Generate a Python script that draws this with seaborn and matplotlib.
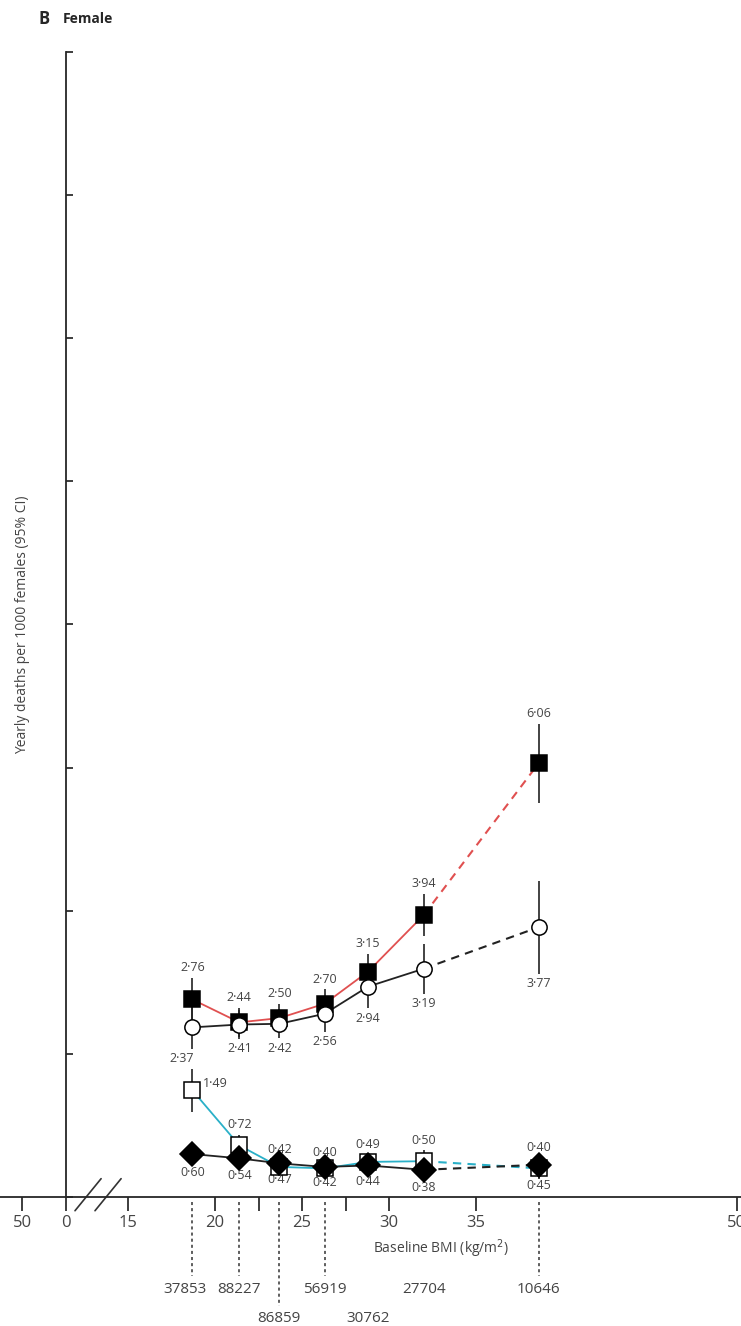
import numpy as np
import matplotlib
matplotlib.use("Agg")
import matplotlib.pyplot as plt
import seaborn as sns

# BMI group positions (kg/m2)
bmi = [18.7, 21.4, 23.7, 26.3, 28.8, 32.0, 38.6]
counts = ["37853", "88227", "86859", "56919", "30762", "27704", "10646"]
count_low = [False, False, True, False, True, False, False]

sq_filled = [2.76, 2.44, 2.50, 2.70, 3.15, 3.94, 6.06]
sq_filled_ci = [0.3, 0.2, 0.2, 0.2, 0.25, 0.3, 0.55]
circ_open = [2.37, 2.41, 2.42, 2.56, 2.94, 3.19, 3.77]
circ_open_ci = [0.3, 0.2, 0.2, 0.25, 0.3, 0.35, 0.65]
sq_open = [1.49, 0.72, 0.42, 0.40, 0.49, 0.50, 0.40]
sq_open_ci = [0.3, 0.15, 0.1, 0.08, 0.1, 0.15, 0.15]
diamond = [0.60, 0.54, 0.47, 0.42, 0.44, 0.38, 0.45]
diamond_ci = [0.12, 0.1, 0.08, 0.07, 0.08, 0.1, 0.15]

sns.set_theme(style="ticks")
plt.rcParams['font.family'] = ['Open Sans', 'DejaVu Sans']

fig = plt.figure(figsize=(7.41, 13.26), dpi=100)
ax = fig.add_axes([0, 0.0973, 1, 0.8635])
x0 = 15 - 128 / 17.4
ax.set_xlim(x0, x0 + 741 / 17.4)
ax.set_ylim(0, 16)

def series(y, ci, marker, mfc, color, labels_above, solid_n=6, dx=None, dy=None):
    x = np.array(bmi)
    y = np.array(y)
    ax.errorbar(x, y, yerr=ci, fmt='none', ecolor='#222222', elinewidth=1.2, zorder=3)
    sns.lineplot(x=x[:solid_n], y=y[:solid_n], color=color, lw=1.3, ax=ax, zorder=2)
    ax.plot(x[solid_n - 1:], y[solid_n - 1:], color=color, lw=1.5, ls=(0, (4, 3)), zorder=2)
    ax.plot(x, y, ls='none', marker=marker, ms=11 if marker != 'D' else 12,
            mfc=mfc, mec='black', mew=1.1, zorder=4)
    for i, (xi, yi, c) in enumerate(zip(x, y, ci)):
        off = (c + 0.05) if labels_above else -(c + 0.05)
        shift = dx[i] if dx else 0
        lift = dy[i] if dy else 0
        ax.text(xi + shift, yi + off + lift, f"{yi:.2f}".replace('.', '·'), fontsize=9,
                color='#444444', ha='center', va='bottom' if labels_above else 'top')

series(sq_filled, sq_filled_ci, 's', 'black', '#e05050', True)
series(circ_open, circ_open_ci, 'o', 'white', '#222222', False, dx=[-0.6, 0, 0, 0, 0, 0, 0])
series(sq_open, sq_open_ci, 's', 'white', '#2ab0c8', True,
       dx=[1.3, 0, 0, 0, 0, 0, 0], dy=[-0.35, 0, 0, 0, 0, 0, 0])
series(diamond, diamond_ci, 'D', 'black', '#222222', False)

# axes styling
ax.spines['top'].set_visible(False)
ax.spines['right'].set_visible(False)
ax.spines['left'].set_position(('data', x0 + 66 / 17.4))
ax.spines['left'].set_linewidth(1.3)
ax.spines['bottom'].set_linewidth(1.3)
ax.set_yticks(np.arange(0, 17, 2))
ax.set_yticklabels([])
ax.tick_params(axis='y', direction='in', length=5)
ax.tick_params(axis='x', direction='out', length=10, labelsize=12, labelcolor='#444444', pad=3)
ax.set_xticks([x0 + 22 / 17.4, x0 + 66 / 17.4, 15, 20, 22.5, 25, 27.5, 30, 35, 50])
ax.set_xticklabels(["50", "0", "15", "20", "", "25", "", "30", "35", "50"])

# axis break slashes
tr = ax.get_xaxis_transform()
for xs in [x0 + 75 / 17.4, x0 + 95 / 17.4]:
    ax.plot([xs, xs + 1.5], [-0.012, 0.016], color='#333333', lw=1.2, transform=tr, clip_on=False)

ax.text(33, -0.045, "Baseline BMI (kg/m$^2$)", transform=tr, ha='center', va='center',
        fontsize=10, color='#444444')
ax.set_ylabel("Yearly deaths per 1000 females (95% CI)", fontsize=10, color='#444444')
ax.yaxis.set_label_coords(0.041, 0.5)

for xi, c, low in zip(bmi, counts, count_low):
    yl = -0.106 if low else -0.081
    if xi in (18.7, 21.4, 23.7, 26.3, 38.6):
        ax.plot([xi, xi], [-0.004, yl + 0.012 if not low else -0.095], color='#333333',
                lw=1.1, ls=(0, (2, 2)), transform=tr, clip_on=False)
    xt = xi - 0.4 if c == "37853" else xi
    ax.text(xt, yl, c, transform=tr, ha='center', va='center', fontsize=11, color='#444444')

fig.text(0.052, 0.986, "B", fontsize=12, fontweight='bold', va='center')
fig.text(0.085, 0.986, "Female", fontsize=10, fontweight='bold', va='center')

fig.savefig("out.png", dpi=100)
